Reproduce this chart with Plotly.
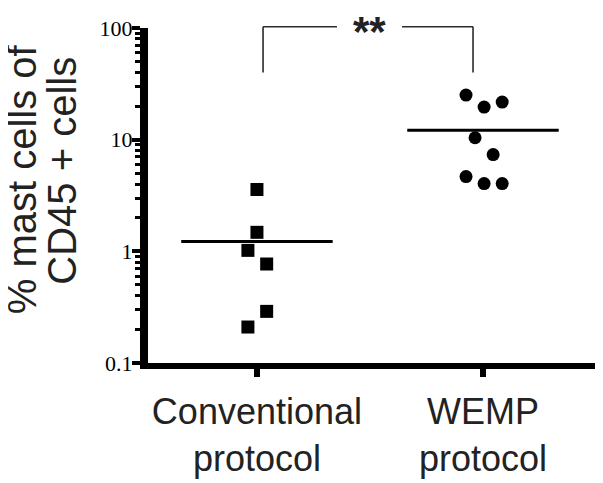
import numpy as np
import plotly.graph_objects as go

# ---- data ----
categories = ["Conventional<br>protocol", "WEMP<br>protocol"]
conventional_values = [3.58, 1.48, 1.02, 0.77, 0.29, 0.21]
conventional_jitter = [0.0, 0.0, -0.04, 0.043, 0.043, -0.04]
wemp_values = [25.1, 19.6, 21.7, 10.4, 7.36, 4.67, 4.04, 4.04]
wemp_jitter = [-0.075, 0.005, 0.085, -0.035, 0.045, -0.075, 0.005, 0.085]
y_tick_values = [0.1, 1, 10, 100]
y_tick_labels = ["0.1", "1", "10", "100"]
significance = "**"
y_title_lines = ["% mast cells of", "CD45 + cells"]

fig = go.Figure()

groups = [
    (0, conventional_values, conventional_jitter, "square"),
    (1, wemp_values, wemp_jitter, "circle"),
]
half_width = 0.335
for idx, vals, jit, sym in groups:
    xs = [idx + j for j in jit]
    fig.add_trace(go.Scatter(
        x=xs, y=vals, mode="markers",
        marker=dict(symbol=sym, size=13, color="black", line=dict(width=0)),
        showlegend=False, cliponaxis=False, hoverinfo="y"))
    m = float(np.mean(vals))
    fig.add_trace(go.Scatter(
        x=[idx - half_width, idx + half_width], y=[m, m], mode="lines",
        line=dict(color="black", width=3), showlegend=False, hoverinfo="skip"))

# significance bracket
br_left, br_right = 0.027, 0.956
gap_left, gap_right = 0.354, 0.642
top_y, bottom_y = 1.0038, 0.867
line_style = dict(color="#2a2a2a", width=1.6)
for (x0, y0, x1, y1) in [
    (br_left, bottom_y, br_left, top_y),
    (br_left, top_y, gap_left, top_y),
    (gap_right, top_y, br_right, top_y),
    (br_right, top_y, br_right, bottom_y),
]:
    fig.add_shape(type="line", xref="x", yref="paper", x0=x0, y0=y0, x1=x1, y1=y1,
                  line=line_style)

fig.add_annotation(text=significance, xref="x", yref="paper",
                   x=(gap_left + gap_right) / 2, y=0.99,
                   xanchor="center", yanchor="middle", showarrow=False,
                   font=dict(family="Liberation Sans, Arial", size=42, color="#222222", weight="bold"))

# y-axis title as two rotated lines
for txt, px, py in [(y_title_lines[0], -0.2750, 0.548), (y_title_lines[1], -0.189, 0.574)]:
    fig.add_annotation(text=txt, xref="paper", yref="paper", x=px, y=py,
                       xanchor="center", yanchor="middle", textangle=-90, showarrow=False,
                       font=dict(family="Liberation Sans, Arial", size=40, color="#222222"))

fig.update_layout(
    width=603, height=483,
    margin=dict(l=140, r=8, t=9, b=128),
    plot_bgcolor="white", paper_bgcolor="white",
    showlegend=False,
)

fig.update_xaxes(
    range=[-0.482, 1.531],
    tickvals=[0, 1], ticktext=categories,
    showline=True, linecolor="black", linewidth=6,
    ticks="outside", ticklen=8, tickwidth=6, tickcolor="black",
    ticklabelstandoff=4,
    showgrid=False, zeroline=False,
    tickfont=dict(family="Liberation Sans, Arial", size=36, color="#222222"),
)

fig.update_yaxes(
    type="log", range=[-1, 2],
    tickvals=y_tick_values, ticktext=y_tick_labels,
    showline=True, linecolor="black", linewidth=8,
    ticks="outside", ticklen=8, tickwidth=4, tickcolor="black",
    ticklabelstandoff=-5, ticklabeloverflow="allow",
    minor=dict(ticks="outside", ticklen=5, tickwidth=3, tickcolor="black", dtick="D1", showgrid=False),
    showgrid=False, zeroline=False,
    tickfont=dict(family="Liberation Serif, Times New Roman", size=22, color="black"),
)

fig.write_html("out.html")
